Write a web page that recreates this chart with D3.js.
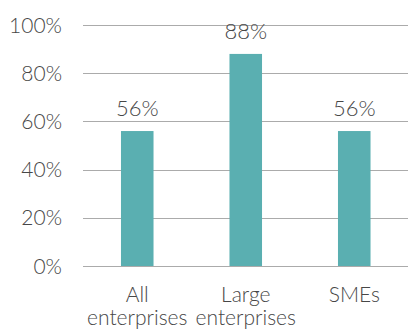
<!DOCTYPE html>
<html>
<head>
<meta charset="utf-8">
<script src="https://cdn.jsdelivr.net/npm/d3@7"></script>
<style>
  body { margin: 0; background: #fff; }
  text { font-family: Lato, "Open Sans", sans-serif; font-weight: 300; fill: #474747; }
</style>
</head>
<body>
<div id="chart"></div>
<script>
// Share of enterprises (bar chart)

const categories = [['All', 'enterprises'], ['Large', 'enterprises'], ['SMEs']];
const values = [56, 88, 56];
const yTicks = [0, 20, 40, 60, 80, 100];

const width = 408;
const height = 331;
const margin = { top: 25, right: 0, bottom: 65, left: 83 };

const svg = d3.select('#chart')
    .append('svg')
    .attr('width', width)
    .attr('height', height);

const x = d3.scaleBand()
    .domain(d3.range(values.length))
    .range([margin.left, width + 0.5])
    .paddingInner(0.7)
    .paddingOuter(0.35);

const y = d3.scaleLinear()
    .domain([0, 100])
    .range([height - margin.bottom, margin.top]);

// Gridlines
svg.append('g')
    .selectAll('line')
    .data(yTicks)
    .join('line')
    .attr('x1', margin.left)
    .attr('x2', width)
    .attr('y1', d => Math.round(y(d)) + 0.5)
    .attr('y2', d => Math.round(y(d)) + 0.5)
    .attr('stroke', '#ababab')
    .attr('stroke-width', 1);

// Y tick labels
svg.append('g')
    .selectAll('text')
    .data(yTicks)
    .join('text')
    .attr('x', 62)
    .attr('y', d => y(d) + 7.5)
    .attr('text-anchor', 'end')
    .attr('font-size', '21px')
    .text(d => d + '%');

// Bars
svg.append('g')
    .selectAll('rect')
    .data(values)
    .join('rect')
    .attr('x', (d, i) => x(i))
    .attr('width', x.bandwidth())
    .attr('y', d => y(d))
    .attr('height', d => y(0) - y(d))
    .attr('fill', '#5aafb1');

// Value labels
svg.append('g')
    .selectAll('text')
    .data(values)
    .join('text')
    .attr('x', (d, i) => x(i) + x.bandwidth() / 2)
    .attr('y', d => y(d) - 15)
    .attr('text-anchor', 'middle')
    .attr('font-size', '22px')
    .text(d => d + '%');

// Category labels
const cat = svg.append('g')
    .selectAll('text')
    .data(categories)
    .join('text')
    .attr('x', (d, i) => x(i) + x.bandwidth() / 2)
    .attr('y', 302)
    .attr('text-anchor', 'middle')
    .attr('font-size', '21px');

cat.selectAll('tspan')
    .data(d => d)
    .join('tspan')
    .attr('x', function() { return this.parentNode.getAttribute('x'); })
    .attr('dy', (d, i) => i === 0 ? 0 : 23)
    .text(d => d);
</script>
</body>
</html>
